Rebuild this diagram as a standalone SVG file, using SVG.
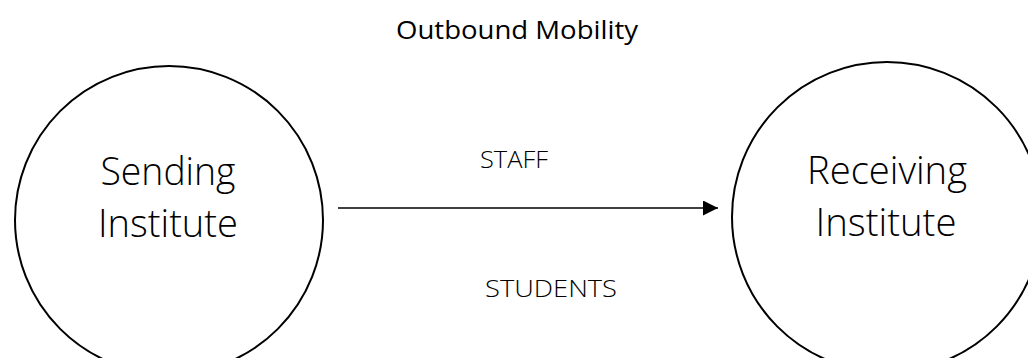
<svg xmlns="http://www.w3.org/2000/svg" width="1028" height="358" viewBox="0 0 1028 358">
<style>
.node{fill:#fff;stroke:#000;stroke-width:2}
.lbl{font-family:"Open Sans","Noto Sans","Liberation Sans",sans-serif;fill:#000;text-anchor:middle}
.big{font-size:38px;font-weight:300}
.small{font-size:23px;font-weight:300}
.title{font-size:26px;font-weight:500}
.conn{stroke:#000;stroke-width:1.4;fill:none}
</style>
<defs>
<marker id="arr" markerWidth="16" markerHeight="16" refX="15" refY="7.5" orient="auto" markerUnits="userSpaceOnUse">
<path d="M0,0 L15,7.5 L0,15 Z" fill="#000"/>
</marker>
</defs>
<rect width="1028" height="358" fill="#fff"/>
<g id="title">
<text class="lbl title" x="517" y="39" textLength="242" lengthAdjust="spacingAndGlyphs">Outbound Mobility</text>
</g>
<g id="sending">
<circle class="node" cx="169" cy="220" r="154"/>
<text class="lbl big" x="168" y="185" textLength="135" lengthAdjust="spacingAndGlyphs">Sending</text>
<text class="lbl big" x="168" y="237" textLength="140" lengthAdjust="spacingAndGlyphs">Institute</text>
</g>
<g id="receiving">
<circle class="node" cx="887" cy="217" r="155"/>
<text class="lbl big" x="887" y="184" textLength="160" lengthAdjust="spacingAndGlyphs">Receiving</text>
<text class="lbl big" x="886" y="236" textLength="141" lengthAdjust="spacingAndGlyphs">Institute</text>
</g>
<g id="connectors">
<line class="conn" x1="338" y1="208" x2="718" y2="208" marker-end="url(#arr)"/>
<text class="lbl small" x="514" y="168" textLength="68" lengthAdjust="spacingAndGlyphs">STAFF</text>
<text class="lbl small" x="551" y="297" textLength="132" lengthAdjust="spacingAndGlyphs">STUDENTS</text>
</g>
</svg>
